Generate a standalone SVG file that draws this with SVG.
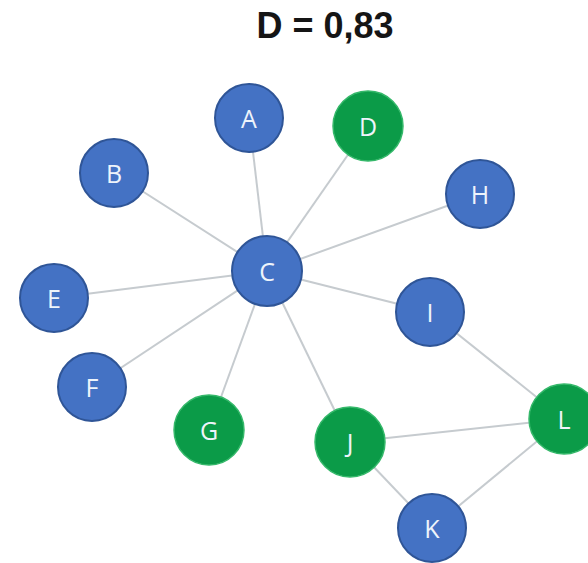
<svg xmlns="http://www.w3.org/2000/svg" width="588" height="563" viewBox="0 0 588 563">
<style>
.e{stroke:#c6cbcf;stroke-width:2;fill:none}
.b{fill:#4472c4;stroke:#2f5597;stroke-width:2}
.g{fill:#0b9b48;stroke:#35b86a;stroke-width:1.5}
.t{font-family:"Open Sans","Liberation Sans",sans-serif;font-size:25px;fill:#eef4fb;text-anchor:middle;dominant-baseline:central}
.title{font-family:"Liberation Sans",Arial,sans-serif;font-weight:bold;font-size:36px;fill:#151515;text-anchor:middle}
</style>
<rect width="588" height="563" fill="#ffffff"/>
<text class="title" x="325" y="38">D = 0,83</text>
<g id="connectors">
<line class="e" x1="267" y1="271" x2="249" y2="118"/>
<line class="e" x1="267" y1="271" x2="368" y2="126"/>
<line class="e" x1="267" y1="271" x2="114" y2="173"/>
<line class="e" x1="267" y1="271" x2="480" y2="194"/>
<line class="e" x1="267" y1="271" x2="54" y2="298"/>
<line class="e" x1="267" y1="271" x2="430" y2="312"/>
<line class="e" x1="267" y1="271" x2="92" y2="387"/>
<line class="e" x1="267" y1="271" x2="209" y2="430"/>
<line class="e" x1="267" y1="271" x2="350" y2="442"/>
<line class="e" x1="430" y1="312" x2="564" y2="419"/>
<line class="e" x1="350" y1="442" x2="564" y2="419"/>
<line class="e" x1="350" y1="442" x2="432" y2="528"/>
<line class="e" x1="432" y1="528" x2="564" y2="419"/>
</g>
<g id="A"><circle class="b" cx="249" cy="118" r="34"/><text class="t" x="249" y="118">A</text></g>
<g id="D"><circle class="g" cx="368" cy="126" r="35"/><text class="t" x="368" y="126">D</text></g>
<g id="B"><circle class="b" cx="114" cy="173" r="34"/><text class="t" x="114" y="173">B</text></g>
<g id="H"><circle class="b" cx="480" cy="194" r="34"/><text class="t" x="480" y="194">H</text></g>
<g id="C"><circle class="b" cx="267" cy="271" r="35"/><text class="t" x="267" y="271">C</text></g>
<g id="E"><circle class="b" cx="54" cy="298" r="34"/><text class="t" x="54" y="298">E</text></g>
<g id="I"><circle class="b" cx="430" cy="312" r="34"/><text class="t" x="430" y="312">I</text></g>
<g id="F"><circle class="b" cx="92" cy="387" r="34"/><text class="t" x="92" y="387">F</text></g>
<g id="G"><circle class="g" cx="209" cy="430" r="35"/><text class="t" x="209" y="430">G</text></g>
<g id="J"><circle class="g" cx="350" cy="442" r="35"/><text class="t" x="350" y="442">J</text></g>
<g id="L"><circle class="g" cx="564" cy="419" r="35"/><text class="t" x="564" y="419">L</text></g>
<g id="K"><circle class="b" cx="432" cy="528" r="34"/><text class="t" x="432" y="528">K</text></g>
</svg>
